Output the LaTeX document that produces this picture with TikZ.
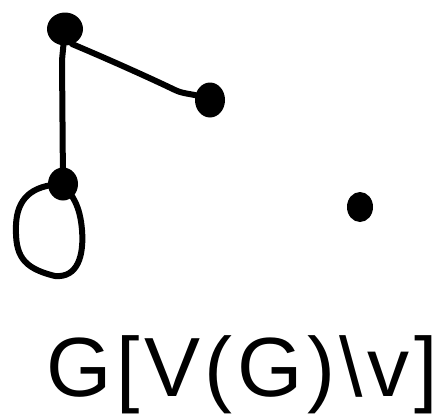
\documentclass[tikz,border=0pt]{standalone}
\usetikzlibrary{shapes.geometric}
\usepackage{fontspec}
\newfontfamily\lblfont[LetterSpace=5.5]{Liberation Sans}
\begin{document}
\begin{tikzpicture}[x=1pt,y=-1pt,
  vtx/.style={ellipse,fill=black,inner sep=0pt},
  edge/.style={line width=6pt,line cap=round,line join=round}]
\useasboundingbox (0,0) rectangle (445,415);
\node[vtx,minimum width=36pt,minimum height=33pt] (a) at (65,29) {};
\node[vtx,minimum width=30pt,minimum height=35pt] (b) at (210,100) {};
\node[vtx,minimum width=30pt,minimum height=33pt] (c) at (63,184) {};
\node[vtx,minimum width=26pt,minimum height=30pt] (d) at (360,207) {};
\draw[edge] (a.center) -- (72,44) .. controls (110,60) and (150,78) .. (175,90)
  .. controls (185,95) and (195,93) .. (b.center);
\draw[edge] (a.center) -- (62,60) -- (c.center);
\draw[edge] (c.center) .. controls (30,185) and (17,200) .. (16,225)
  .. controls (15,255) and (22,268) .. (55,276)
  .. controls (78,278) and (84,255) .. (82,230)
  .. controls (80,205) and (72,195) .. (c.center);
\node[font={\lblfont\fontsize{84}{84}\selectfont}, anchor=base, inner sep=0pt] (lbl) at (242,396)
  {G[V(G)\textbackslash v]};
\end{tikzpicture}
\end{document}
